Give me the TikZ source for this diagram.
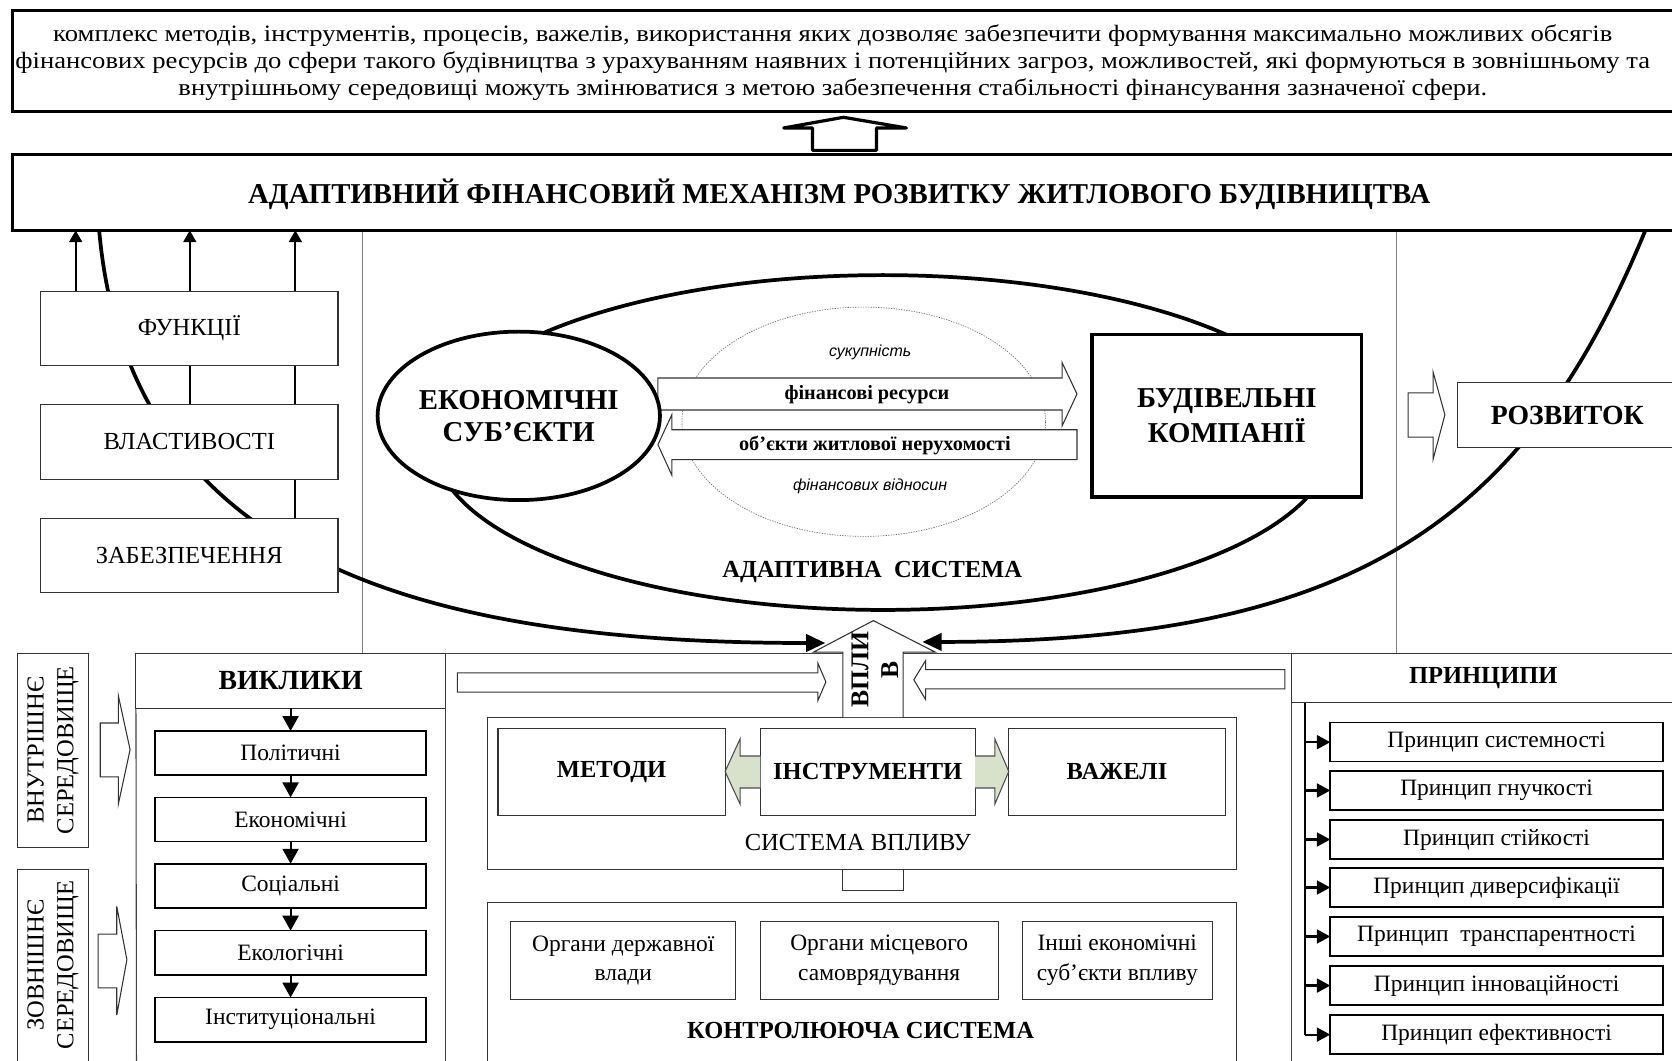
\documentclass[tikz,border=0pt]{standalone}
\usepackage{fontspec}
\setmainfont{Liberation Serif}
\newfontfamily\arialf{Liberation Sans}
\usetikzlibrary{arrows.meta,shapes.geometric}
\pgfdeclarelayer{bg}
\pgfsetlayers{bg,main}
\newcommand\fsz[2]{\fontsize{#1}{#2}\selectfont}
\definecolor{arrgreen}{RGB}{216,226,202}
\begin{document}
\begin{tikzpicture}[x=1pt,y=-1pt,
 every node/.style={inner sep=0pt,outer sep=0pt},
 heavybox/.style={draw,line width=3pt,fill=white},
 lightbox/.style={draw=black!80,line width=1pt,fill=white,align=center},
 itembox/.style={draw=black,line width=1.5pt,fill=white,align=center},
 mycurve/.style={line width=3.5pt,-{Triangle[length=18pt,width=16pt]}},
 sepline/.style={draw=black!50,line width=1pt},
 frameline/.style={draw=black!75,line width=1pt},
 outarrow/.style={draw=black!80,line width=1pt,fill=white,line join=miter},
 grarrow/.style={draw=black!70,line width=1pt,fill=arrgreen,line join=miter},
 uparr/.style={line width=2pt,-{Triangle[length=11pt,width=12pt]}},
 downarr/.style={line width=2pt,-{Triangle[length=14pt,width=15pt]}},
 rightarr/.style={line width=2pt,-{Triangle[length=12.5pt,width=13pt]}},
 regtxt/.style={font=\fsz{22}{28}},
]
\useasboundingbox (0,0) rectangle (1568,995);
\begin{pgfonlayer}{bg}
\fill[white] (0,0) rectangle (1568,995);
\end{pgfonlayer}

% ---------- top definition box ----------
\node[heavybox,minimum width=1573pt,minimum height=94.5pt] (defbox) at (798.5,57.25) {};
\node[align=center,font=\fsz{22}{25.5},xscale=1.135] (deftext) at (781,59) {комплекс методів, інструментів, процесів, важелів, використання яких дозволяє забезпечити формування максимально можливих обсягів\\фінансових ресурсів до сфери такого будівництва з урахуванням наявних і потенційних загроз, можливостей, які формуються в зовнішньому та\\внутрішньому середовищі можуть змінюватися з метою забезпечення стабільності фінансування зазначеної сфери.};

% ---------- mechanism box ----------
\node[heavybox,minimum width=1573pt,minimum height=71pt] (mech) at (798.5,180.5) {};
\node[font=\bfseries\fsz{27}{30}] (mechtext) at (787,182) {АДАПТИВНИЙ ФІНАНСОВИЙ МЕХАНІЗМ РОЗВИТКУ ЖИТЛОВОГО БУДІВНИЦТВА};

% up arrow between them
\draw[line width=3pt,line join=round,fill=white] (762,141) -- (762,120) -- (735,120) -- (791,110) -- (850,120) -- (822,120) -- (822,141) -- cycle;

% ---------- left boxes ----------
\node[lightbox,minimum width=279pt,minimum height=70pt,font=\fsz{23}{26}] (fun) at (177.5,308) {ФУНКЦІЇ};
\node[lightbox,minimum width=279pt,minimum height=70pt,font=\fsz{23}{26}] (vl) at (177.5,414.5) {ВЛАСТИВОСТІ};
\node[lightbox,minimum width=279pt,minimum height=70pt,font=\fsz{23}{26}] (zab) at (177.5,521) {ЗАБЕЗПЕЧЕННЯ};

% ---------- adaptive system ----------
\node[ellipse,draw,line width=3.5pt,minimum width=842pt,minimum height=314pt] (adsys) at (828,415) {};
\node[ellipse,draw=black!60,line width=0.6pt,dash pattern=on 1.2pt off 1.2pt,minimum width=341pt,minimum height=215pt] (inner) at (810,395.5) {};
\node[font=\arialf\itshape\fsz{15}{18}] (suk) at (816,330) {сукупність};
\node[font=\arialf\itshape\fsz{15}{18}] (fv) at (816,456) {фінансових відносин};

\draw[outarrow] (617,354.5) -- (996,354.5) -- (996,340) -- (1010,369.5) -- (996,399.5) -- (996,384.5) -- (617,384.5) -- cycle;
\draw[outarrow] (1010,403) -- (630,403) -- (630,389) -- (617,417) -- (630,445.5) -- (630,431) -- (1010,431) -- cycle;
\node[font=\bfseries\fsz{19}{22}] (fr) at (813,370.5) {фінансові ресурси};
\node[font=\bfseries\fsz{19}{22}] (ob) at (820.5,418) {об’єкти житлової нерухомості};

\node[ellipse,draw,line width=3.5pt,fill=white,minimum width=233pt,minimum height=158pt,align=center,font=\bfseries\fsz{27}{30}] (econ) at (486.5,390) {ЕКОНОМІЧНІ\\СУБ’ЄКТИ};
\node[heavybox,minimum width=253pt,minimum height=152pt,align=center,font=\bfseries\fsz{27}{33}] (build) at (1150.5,390) {БУДІВЕЛЬНІ\\КОМПАНІЇ};
\node[font=\bfseries\fsz{23}{28}] (adtext) at (818,536.5) {АДАПТИВНА\ \ СИСТЕМА};

% ---------- development ----------
\draw[outarrow] (1320.5,368.5) -- (1344,368.5) -- (1344,349) -- (1355,389) -- (1344,430.5) -- (1344,410) -- (1320.5,410) -- cycle;
\node[lightbox,minimum width=206.5pt,minimum height=61pt,font=\bfseries\fsz{26}{30}] (rozv) at (1469.75,389.5) {РОЗВИТОК};

% ---------- lower frame ----------
\node[lightbox,minimum width=290pt,minimum height=51.5pt,font=\bfseries\fsz{26}{30}] (vyk) at (272.5,638.25) {ВИКЛИКИ};
\node[lightbox,minimum width=368.6pt,minimum height=46.5pt] (prh) at (1395.7,635.75) {};
\node[font=\bfseries\fsz{23}{26}] (prtext) at (1391,636) {ПРИНЦИПИ};
\draw[frameline] (vyk.north east) -- (prh.north west);
\draw[frameline] (vyk.south west) -- (128,1005);
\draw[frameline] (vyk.south east) -- (417.5,1005);
\draw[frameline] (prh.south west) -- (1211.4,1005);

% challenges list
\node[itembox,regtxt,minimum width=254pt,minimum height=41.5pt] (it1) at (272.5,706.25) {Політичні};
\node[itembox,regtxt,minimum width=254pt,minimum height=41.5pt] (it2) at (272.5,768.5) {Економічні};
\node[itembox,regtxt,minimum width=254pt,minimum height=41.5pt] (it3) at (272.5,830.75) {Соціальні};
\node[itembox,regtxt,minimum width=254pt,minimum height=41.5pt] (it4) at (272.5,893.5) {Екологічні};
\node[itembox,regtxt,minimum width=254pt,minimum height=41.5pt] (it5) at (272.5,956.25) {Інституціональні};
\draw[downarr] (vyk.south) -- (it1.north);
\draw[downarr] (it1.south) -- (it2.north);
\draw[downarr] (it2.south) -- (it3.north);
\draw[downarr] (it3.south) -- (it4.north);
\draw[downarr] (it4.south) -- (it5.north);

% environments
\node[lightbox,rotate=90,minimum width=182pt,minimum height=66.7pt,font=\fsz{23}{28}] (env1) at (49.65,703.5) {ВНУТРІШНЄ\\СЕРЕДОВИЩЕ};
\node[lightbox,rotate=90,minimum width=195pt,minimum height=66.7pt] (env2) at (49.65,912.5) {};
\node[rotate=90,align=center,font=\fsz{23}{28}] (env2t) at (49.65,905) {ЗОВНІШНЄ\\СЕРЕДОВИЩЕ};
\draw[outarrow] (94,678) -- (111,678) -- (111,652.5) -- (122,703) -- (111,754) -- (111,728.5) -- (94,728.5) -- cycle;
\draw[outarrow] (92,876) -- (109.5,876) -- (109.5,850) -- (119,900) -- (109.5,952) -- (109.5,926.5) -- (92,926.5) -- cycle;

% influence arrows into VPLYV
\draw[outarrow] (429,631) -- (767,631) -- (767,622) -- (774.5,639.5) -- (767,657) -- (767,649) -- (429,649) -- cycle;
\draw[outarrow] (1205,628) -- (868,628) -- (868,619.5) -- (857,637.5) -- (868,656) -- (868,646) -- (1205,646) -- cycle;

% influence system
\node[lightbox,minimum width=703pt,minimum height=142.5pt] (sysv) at (808.5,743.75) {};
\node[font=\fsz{23}{28}] (sysvt) at (804.5,790.5) {СИСТЕМА ВПЛИВУ};
\node[lightbox,minimum width=213pt,minimum height=81.5pt,font=\bfseries\fsz{23}{26}] (met) at (573.5,723.75) {МЕТОДИ};
\node[lightbox,minimum width=201.5pt,minimum height=81.5pt,font=\bfseries\fsz{23}{26}] (ins) at (813.75,723.75) {ІНСТРУМЕНТИ};
\node[lightbox,minimum width=203pt,minimum height=81.5pt,font=\bfseries\fsz{23}{26}] (vaz) at (1047.5,723.75) {ВАЖЕЛІ};
\draw[grarrow] (713,709) -- (694,709) -- (694,693) -- (680,723.5) -- (694,754) -- (694,739) -- (713,739);
\draw[grarrow] (914.5,709) -- (933,709) -- (933,693) -- (946,723.5) -- (933,754) -- (933,739) -- (914.5,739);

% VPLYV block arrow
\draw[outarrow] (790.5,672.5) -- (790.5,611.5) -- (763,611.5) -- (819,582) -- (877,611.5) -- (847,611.5) -- (847,672.5);
\node[rotate=90,align=center,font=\bfseries\fsz{24}{28}] (vpl) at (820.5,628) {ВПЛИ\\В};
\draw[outarrow] (790.5,815) rectangle (847,835.5);
\coordinate (vplL) at (774,603);
\coordinate (vplR) at (865,602);

% controlling system
\node[lightbox,minimum width=703pt,minimum height=164pt] (ctrl) at (808.5,928) {};
\node[lightbox,minimum width=211pt,minimum height=72.5pt,font=\fsz{22}{28}] (org1) at (584.5,900.75) {Органи державної\\влади};
\node[lightbox,minimum width=223pt,minimum height=72.5pt,font=\fsz{22}{28}] (org2) at (824.5,900.75) {Органи місцевого\\самоврядування};
\node[lightbox,minimum width=178.5pt,minimum height=72.5pt,font=\fsz{22}{28}] (org3) at (1047.75,900.75) {Інші економічні\\суб’єкти впливу};
\node[font=\bfseries\fsz{23}{28}] (ctrlt) at (807,966) {КОНТРОЛЮЮЧА СИСТЕМА};

% principles
\node[itembox,regtxt,minimum width=312pt,minimum height=36.6pt] (p1) at (1403.5,696) {Принцип системності};
\node[itembox,regtxt,minimum width=312pt,minimum height=36.6pt] (p2) at (1403.5,741.3) {Принцип гнучкості};
\node[itembox,regtxt,minimum width=312pt,minimum height=36.6pt] (p3) at (1403.5,787.3) {Принцип стійкості};
\node[itembox,regtxt,minimum width=312pt,minimum height=36.6pt] (p4) at (1403.5,832.3) {Принцип диверсифікації};
\node[itembox,regtxt,minimum width=312pt,minimum height=36.6pt] (p5) at (1403.5,878.25) {Принцип\ \ транспарентності};
\node[itembox,regtxt,minimum width=312pt,minimum height=36.6pt] (p6) at (1403.5,924.25) {Принцип інноваційності};
\node[itembox,regtxt,minimum width=312pt,minimum height=36.6pt] (p7) at (1403.5,970.25) {Принцип ефективності};
\coordinate (pline) at (1224,659);
\draw[line width=2pt] (prh.south -| pline) -- (p7.west -| pline);
\foreach \p in {p1,p2,p3,p4,p5,p6,p7}
  \draw[rightarr] (\p.west -| pline) -- (\p.west);

% ---------- background connectors ----------
\coordinate (sepL) at (340,612);
\coordinate (sepR) at (1310,612);
\begin{pgfonlayer}{bg}
 \draw[sepline] (sepL |- mech.south) -- (sepL);
 \draw[sepline] (sepR |- mech.south) -- (sepR);
 \coordinate (fa) at ([xshift=-106.5pt]fun.north);
 \coordinate (va) at ([xshift=0.5pt]vl.north);
 \coordinate (za) at ([xshift=99.5pt]zab.north);
 \draw[uparr] (fa) -- (fa |- mech.south);
 \draw[uparr] (va) -- (va |- mech.south);
 \draw[uparr] (za) -- (za |- mech.south);
 \coordinate (lcs) at ([xshift=81pt]mech.south west);
 \coordinate (rcs) at ([xshift=1531pt]mech.south west);
 \draw[mycurve] (lcs) .. controls (120,520) and (384,603) .. (vplL);
 \draw[mycurve] (rcs) .. controls (1429,493) and (1265,602) .. (vplR);
\end{pgfonlayer}
\end{tikzpicture}
\end{document}
